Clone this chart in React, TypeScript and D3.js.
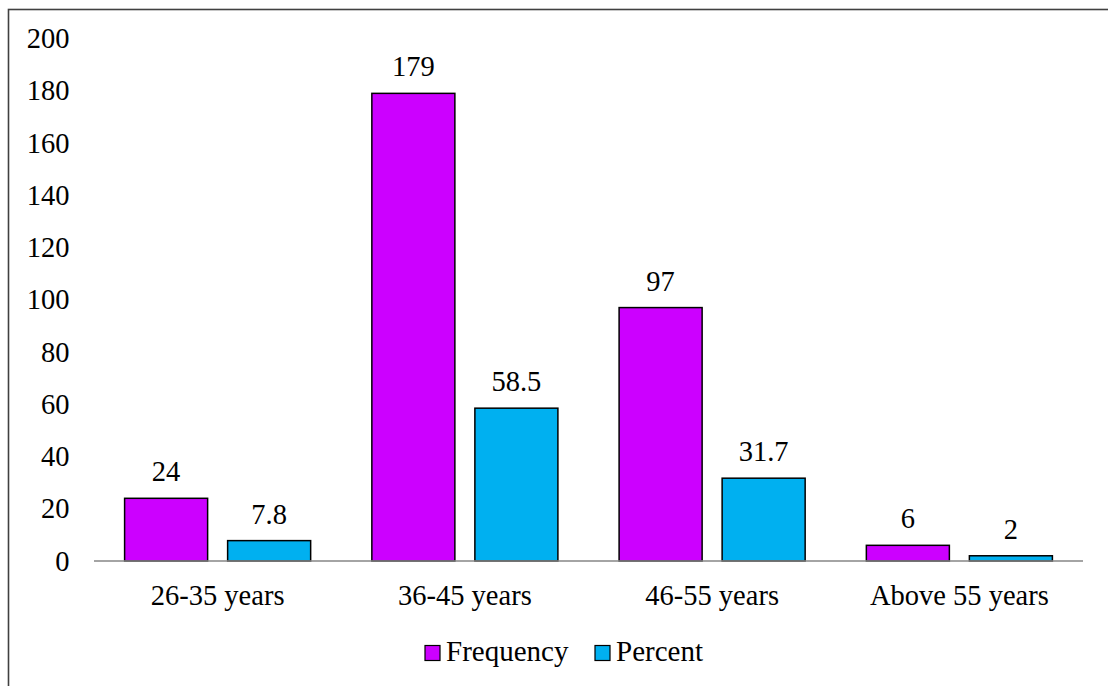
import React from "react";
import * as d3 from "d3";

const categories = ["26-35 years", "36-45 years", "46-55 years", "Above 55 years"];
const seriesNames = ["Frequency", "Percent"];
const frequency = [24, 179, 97, 6];
const percent = [7.8, 58.5, 31.7, 2];
const labels = [
  ["24", "179", "97", "6"],
  ["7.8", "58.5", "31.7", "2"],
];
const yTicks = [0, 20, 40, 60, 80, 100, 120, 140, 160, 180, 200];
const colors = ["#CC00FF", "#00B0F0"];

const W = 1108;
const H = 686;
const FONT = '"Liberation Serif", "Times New Roman", serif';
const FS = 28.5;

export default function App() {
  const values = [frequency, percent];
  const y = d3.scaleLinear().domain([0, 200]).range([561, 38.5]);
  const x0 = d3.scaleBand<string>().domain(categories).range([94, 1083]);
  const x1 = d3
    .scaleBand<string>()
    .domain(seriesNames)
    .range([0, x0.bandwidth()])
    .paddingInner(20 / 103)
    .paddingOuter(0.297);

  const txt = { fontFamily: FONT };

  return (
    <svg
      width={W}
      height={H}
      style={{ position: "absolute", left: 0, top: 0, background: "#fff" }}
    >
      <rect x={8.5} y={9.5} width={W + 10} height={H + 10} fill="#fff" stroke="#404040" strokeWidth={1.6} />

      {/* y tick labels */}
      {yTicks.map((t) => (
        <text key={t} x={69.5} y={y(t)} dy="0.34em" textAnchor="end" fontSize={FS} fill="#000" style={txt}>
          {t}
        </text>
      ))}

      {/* bars and value labels */}
      {categories.map((c, i) => (
        <g key={c} transform={`translate(${x0(c)},0)`}>
          {seriesNames.map((s, k) => {
            const v = values[k][i];
            const bx = x1(s)!;
            return (
              <g key={s}>
                <rect
                  x={bx}
                  y={y(v)}
                  width={x1.bandwidth()}
                  height={y(0) - y(v)}
                  fill={colors[k]}
                  stroke="#000"
                  strokeWidth={1.5}
                />
                <text
                  x={bx + x1.bandwidth() / 2}
                  y={y(v) - 17}
                  textAnchor="middle"
                  fontSize={FS}
                  fill="#000"
                  style={txt}
                >
                  {labels[k][i]}
                </text>
              </g>
            );
          })}
          <text x={x0.bandwidth() / 2} y={605} textAnchor="middle" fontSize={FS} fill="#000" style={txt}>
            {c}
          </text>
        </g>
      ))}

      {/* x axis line */}
      <line x1={94} x2={1083} y1={y(0)} y2={y(0)} stroke="#868686" strokeWidth={1.5} />

      {/* legend */}
      <g>
        {[
          { name: seriesNames[0], sx: 425, tx: 446 },
          { name: seriesNames[1], sx: 595, tx: 616 },
        ].map((d, k) => (
          <g key={d.name}>
            <rect x={d.sx} y={645.5} width={15} height={15} fill={colors[k]} stroke="#000" strokeWidth={1.2} />
            <text x={d.tx} y={661} fontSize={29} fill="#000" style={txt}>
              {d.name}
            </text>
          </g>
        ))}
      </g>
    </svg>
  );
}
